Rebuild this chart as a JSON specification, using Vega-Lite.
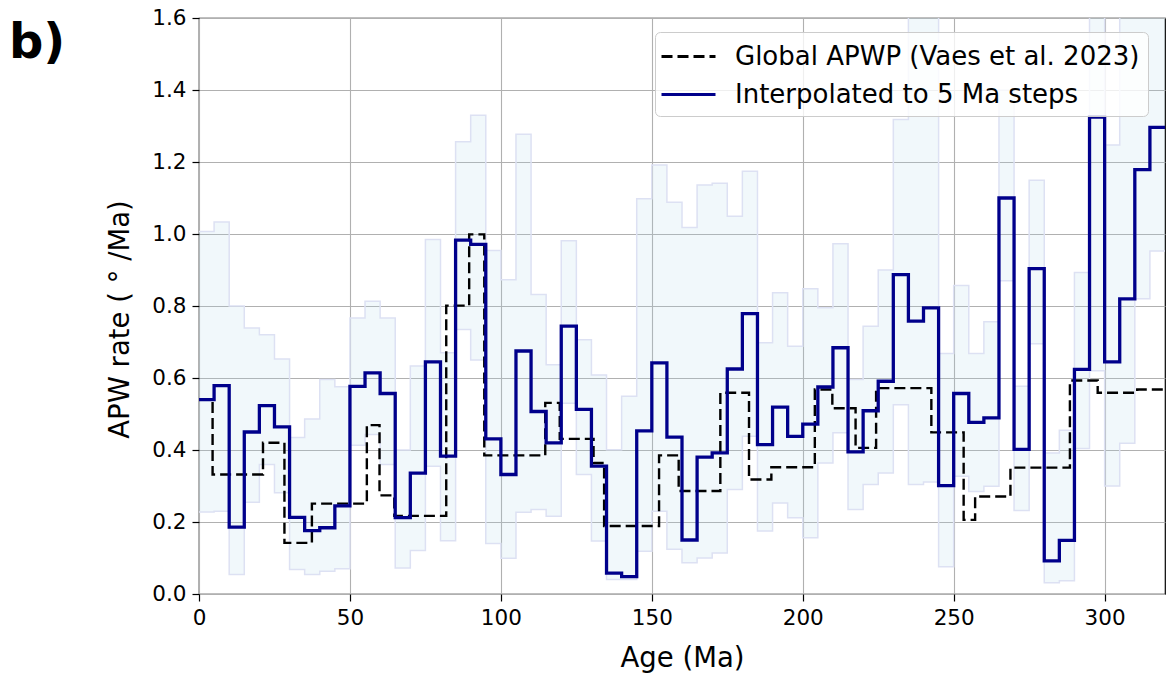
{
  "$schema": "https://vega.github.io/schema/vega-lite/v6.json",
  "width": 966,
  "height": 576,
  "autosize": {"type": "none"},
  "padding": {"left": 199, "top": 18, "right": 6, "bottom": 85},
  "background": "white",
  "title": {"text": "b)", "anchor": "start", "frame": "group", "orient": "top", "fontSize": 48, "fontWeight": "bold", "font": "DejaVu Sans", "color": "black", "baseline": "alphabetic", "offset": 0, "dx": -190, "dy": 99},
  "datasets": {
    "band": [
      {"age": 0, "lo": 0.228, "hi": 1.007},
      {"age": 5, "lo": 0.230, "hi": 1.033},
      {"age": 10, "lo": 0.054, "hi": 0.800},
      {"age": 15, "lo": 0.255, "hi": 0.739},
      {"age": 20, "lo": 0.360, "hi": 0.720},
      {"age": 25, "lo": 0.281, "hi": 0.653},
      {"age": 30, "lo": 0.068, "hi": 0.435},
      {"age": 35, "lo": 0.054, "hi": 0.486},
      {"age": 40, "lo": 0.063, "hi": 0.596},
      {"age": 45, "lo": 0.070, "hi": 0.576},
      {"age": 50, "lo": 0.413, "hi": 0.767},
      {"age": 55, "lo": 0.443, "hi": 0.813},
      {"age": 60, "lo": 0.360, "hi": 0.767},
      {"age": 65, "lo": 0.072, "hi": 0.400},
      {"age": 70, "lo": 0.121, "hi": 0.633},
      {"age": 75, "lo": 0.355, "hi": 0.985},
      {"age": 80, "lo": 0.148, "hi": 0.670},
      {"age": 85, "lo": 0.735, "hi": 1.256},
      {"age": 90, "lo": 0.650, "hi": 1.330},
      {"age": 95, "lo": 0.140, "hi": 0.954},
      {"age": 100, "lo": 0.099, "hi": 0.873},
      {"age": 105, "lo": 0.227, "hi": 1.277},
      {"age": 110, "lo": 0.235, "hi": 0.832},
      {"age": 115, "lo": 0.216, "hi": 0.637},
      {"age": 120, "lo": 0.530, "hi": 0.981},
      {"age": 125, "lo": 0.332, "hi": 0.706},
      {"age": 130, "lo": 0.147, "hi": 0.608},
      {"age": 135, "lo": 0.040, "hi": 0.401},
      {"age": 140, "lo": 0.040, "hi": 0.549},
      {"age": 145, "lo": 0.119, "hi": 1.098},
      {"age": 150, "lo": 0.230, "hi": 1.192},
      {"age": 155, "lo": 0.124, "hi": 1.088},
      {"age": 160, "lo": 0.087, "hi": 1.018},
      {"age": 165, "lo": 0.100, "hi": 1.136},
      {"age": 170, "lo": 0.114, "hi": 1.141},
      {"age": 175, "lo": 0.290, "hi": 1.049},
      {"age": 180, "lo": 0.438, "hi": 1.174},
      {"age": 185, "lo": 0.175, "hi": 0.698},
      {"age": 190, "lo": 0.253, "hi": 0.837},
      {"age": 195, "lo": 0.212, "hi": 0.688},
      {"age": 200, "lo": 0.156, "hi": 0.848},
      {"age": 205, "lo": 0.364, "hi": 0.795},
      {"age": 210, "lo": 0.448, "hi": 0.973},
      {"age": 215, "lo": 0.235, "hi": 0.596},
      {"age": 220, "lo": 0.304, "hi": 0.744},
      {"age": 225, "lo": 0.336, "hi": 0.900},
      {"age": 230, "lo": 0.526, "hi": 1.318},
      {"age": 235, "lo": 0.304, "hi": 1.700},
      {"age": 240, "lo": 0.311, "hi": 1.700},
      {"age": 245, "lo": 0.076, "hi": 0.668},
      {"age": 250, "lo": 0.327, "hi": 0.857},
      {"age": 255, "lo": 0.285, "hi": 0.668},
      {"age": 260, "lo": 0.299, "hi": 0.756},
      {"age": 265, "lo": 0.870, "hi": 1.400},
      {"age": 270, "lo": 0.232, "hi": 0.577},
      {"age": 275, "lo": 0.695, "hi": 1.149},
      {"age": 280, "lo": 0.031, "hi": 0.392},
      {"age": 285, "lo": 0.037, "hi": 0.455},
      {"age": 290, "lo": 0.404, "hi": 0.893},
      {"age": 295, "lo": 0.620, "hi": 1.700},
      {"age": 300, "lo": 0.300, "hi": 1.247},
      {"age": 305, "lo": 0.419, "hi": 1.700},
      {"age": 310, "lo": 0.820, "hi": 1.700},
      {"age": 315, "lo": 0.953, "hi": 1.700},
      {"age": 320, "lo": 0.953, "hi": 1.700}
    ],
    "global": [
      {"series": "Global APWP (Vaes et al. 2023)", "age": 0, "rate": 0.540},
      {"series": "Global APWP (Vaes et al. 2023)", "age": 4.5, "rate": 0.332},
      {"series": "Global APWP (Vaes et al. 2023)", "age": 21.2, "rate": 0.420},
      {"series": "Global APWP (Vaes et al. 2023)", "age": 28.3, "rate": 0.142},
      {"series": "Global APWP (Vaes et al. 2023)", "age": 37.4, "rate": 0.251},
      {"series": "Global APWP (Vaes et al. 2023)", "age": 55.6, "rate": 0.469},
      {"series": "Global APWP (Vaes et al. 2023)", "age": 59.8, "rate": 0.274},
      {"series": "Global APWP (Vaes et al. 2023)", "age": 64.7, "rate": 0.217},
      {"series": "Global APWP (Vaes et al. 2023)", "age": 81.9, "rate": 0.801},
      {"series": "Global APWP (Vaes et al. 2023)", "age": 89.5, "rate": 0.999},
      {"series": "Global APWP (Vaes et al. 2023)", "age": 94.5, "rate": 0.385},
      {"series": "Global APWP (Vaes et al. 2023)", "age": 114.7, "rate": 0.531},
      {"series": "Global APWP (Vaes et al. 2023)", "age": 119.5, "rate": 0.431},
      {"series": "Global APWP (Vaes et al. 2023)", "age": 130.7, "rate": 0.364},
      {"series": "Global APWP (Vaes et al. 2023)", "age": 134.2, "rate": 0.189},
      {"series": "Global APWP (Vaes et al. 2023)", "age": 152.4, "rate": 0.385},
      {"series": "Global APWP (Vaes et al. 2023)", "age": 158.9, "rate": 0.286},
      {"series": "Global APWP (Vaes et al. 2023)", "age": 172.7, "rate": 0.559},
      {"series": "Global APWP (Vaes et al. 2023)", "age": 182.2, "rate": 0.318},
      {"series": "Global APWP (Vaes et al. 2023)", "age": 189.6, "rate": 0.352},
      {"series": "Global APWP (Vaes et al. 2023)", "age": 204.0, "rate": 0.568},
      {"series": "Global APWP (Vaes et al. 2023)", "age": 209.8, "rate": 0.516},
      {"series": "Global APWP (Vaes et al. 2023)", "age": 217.5, "rate": 0.406},
      {"series": "Global APWP (Vaes et al. 2023)", "age": 224.3, "rate": 0.572},
      {"series": "Global APWP (Vaes et al. 2023)", "age": 242.6, "rate": 0.449},
      {"series": "Global APWP (Vaes et al. 2023)", "age": 253.3, "rate": 0.206},
      {"series": "Global APWP (Vaes et al. 2023)", "age": 257.1, "rate": 0.271},
      {"series": "Global APWP (Vaes et al. 2023)", "age": 268.8, "rate": 0.351},
      {"series": "Global APWP (Vaes et al. 2023)", "age": 288.5, "rate": 0.593},
      {"series": "Global APWP (Vaes et al. 2023)", "age": 297.7, "rate": 0.559},
      {"series": "Global APWP (Vaes et al. 2023)", "age": 310.8, "rate": 0.568},
      {"series": "Global APWP (Vaes et al. 2023)", "age": 320, "rate": 0.568}
    ],
    "interp": [
      {"series": "Interpolated to 5 Ma steps", "age": 0, "rate": 0.540},
      {"series": "Interpolated to 5 Ma steps", "age": 5, "rate": 0.579},
      {"series": "Interpolated to 5 Ma steps", "age": 10, "rate": 0.186},
      {"series": "Interpolated to 5 Ma steps", "age": 15, "rate": 0.450},
      {"series": "Interpolated to 5 Ma steps", "age": 20, "rate": 0.523},
      {"series": "Interpolated to 5 Ma steps", "age": 25, "rate": 0.464},
      {"series": "Interpolated to 5 Ma steps", "age": 30, "rate": 0.213},
      {"series": "Interpolated to 5 Ma steps", "age": 35, "rate": 0.176},
      {"series": "Interpolated to 5 Ma steps", "age": 40, "rate": 0.184},
      {"series": "Interpolated to 5 Ma steps", "age": 45, "rate": 0.245},
      {"series": "Interpolated to 5 Ma steps", "age": 50, "rate": 0.577},
      {"series": "Interpolated to 5 Ma steps", "age": 55, "rate": 0.614},
      {"series": "Interpolated to 5 Ma steps", "age": 60, "rate": 0.557},
      {"series": "Interpolated to 5 Ma steps", "age": 65, "rate": 0.212},
      {"series": "Interpolated to 5 Ma steps", "age": 70, "rate": 0.336},
      {"series": "Interpolated to 5 Ma steps", "age": 75, "rate": 0.645},
      {"series": "Interpolated to 5 Ma steps", "age": 80, "rate": 0.383},
      {"series": "Interpolated to 5 Ma steps", "age": 85, "rate": 0.983},
      {"series": "Interpolated to 5 Ma steps", "age": 90, "rate": 0.971},
      {"series": "Interpolated to 5 Ma steps", "age": 95, "rate": 0.431},
      {"series": "Interpolated to 5 Ma steps", "age": 100, "rate": 0.332},
      {"series": "Interpolated to 5 Ma steps", "age": 105, "rate": 0.675},
      {"series": "Interpolated to 5 Ma steps", "age": 110, "rate": 0.507},
      {"series": "Interpolated to 5 Ma steps", "age": 115, "rate": 0.420},
      {"series": "Interpolated to 5 Ma steps", "age": 120, "rate": 0.744},
      {"series": "Interpolated to 5 Ma steps", "age": 125, "rate": 0.513},
      {"series": "Interpolated to 5 Ma steps", "age": 130, "rate": 0.355},
      {"series": "Interpolated to 5 Ma steps", "age": 135, "rate": 0.058},
      {"series": "Interpolated to 5 Ma steps", "age": 140, "rate": 0.048},
      {"series": "Interpolated to 5 Ma steps", "age": 145, "rate": 0.453},
      {"series": "Interpolated to 5 Ma steps", "age": 150, "rate": 0.642},
      {"series": "Interpolated to 5 Ma steps", "age": 155, "rate": 0.436},
      {"series": "Interpolated to 5 Ma steps", "age": 160, "rate": 0.150},
      {"series": "Interpolated to 5 Ma steps", "age": 165, "rate": 0.380},
      {"series": "Interpolated to 5 Ma steps", "age": 170, "rate": 0.392},
      {"series": "Interpolated to 5 Ma steps", "age": 175, "rate": 0.625},
      {"series": "Interpolated to 5 Ma steps", "age": 180, "rate": 0.779},
      {"series": "Interpolated to 5 Ma steps", "age": 185, "rate": 0.415},
      {"series": "Interpolated to 5 Ma steps", "age": 190, "rate": 0.519},
      {"series": "Interpolated to 5 Ma steps", "age": 195, "rate": 0.438},
      {"series": "Interpolated to 5 Ma steps", "age": 200, "rate": 0.472},
      {"series": "Interpolated to 5 Ma steps", "age": 205, "rate": 0.575},
      {"series": "Interpolated to 5 Ma steps", "age": 210, "rate": 0.684},
      {"series": "Interpolated to 5 Ma steps", "age": 215, "rate": 0.395},
      {"series": "Interpolated to 5 Ma steps", "age": 220, "rate": 0.509},
      {"series": "Interpolated to 5 Ma steps", "age": 225, "rate": 0.591},
      {"series": "Interpolated to 5 Ma steps", "age": 230, "rate": 0.887},
      {"series": "Interpolated to 5 Ma steps", "age": 235, "rate": 0.758},
      {"series": "Interpolated to 5 Ma steps", "age": 240, "rate": 0.795},
      {"series": "Interpolated to 5 Ma steps", "age": 245, "rate": 0.301},
      {"series": "Interpolated to 5 Ma steps", "age": 250, "rate": 0.557},
      {"series": "Interpolated to 5 Ma steps", "age": 255, "rate": 0.477},
      {"series": "Interpolated to 5 Ma steps", "age": 260, "rate": 0.489},
      {"series": "Interpolated to 5 Ma steps", "age": 265, "rate": 1.100},
      {"series": "Interpolated to 5 Ma steps", "age": 270, "rate": 0.402},
      {"series": "Interpolated to 5 Ma steps", "age": 275, "rate": 0.904},
      {"series": "Interpolated to 5 Ma steps", "age": 280, "rate": 0.092},
      {"series": "Interpolated to 5 Ma steps", "age": 285, "rate": 0.149},
      {"series": "Interpolated to 5 Ma steps", "age": 290, "rate": 0.624},
      {"series": "Interpolated to 5 Ma steps", "age": 295, "rate": 1.325},
      {"series": "Interpolated to 5 Ma steps", "age": 300, "rate": 0.645},
      {"series": "Interpolated to 5 Ma steps", "age": 305, "rate": 0.820},
      {"series": "Interpolated to 5 Ma steps", "age": 310, "rate": 1.179},
      {"series": "Interpolated to 5 Ma steps", "age": 315, "rate": 1.296},
      {"series": "Interpolated to 5 Ma steps", "age": 320, "rate": 1.296}
    ]
  },
  "layer": [
    {
      "data": {"name": "band"},
      "mark": {"type": "area", "interpolate": "step-after", "clip": true, "fill": "#add8e6", "fillOpacity": 0.17},
      "encoding": {
        "x": {"field": "age", "type": "quantitative", "title": "Age (Ma)",
              "scale": {"domain": [0, 320], "nice": false, "zero": false},
              "axis": {"values": [0, 50, 100, 150, 200, 250, 300], "labelFlush": false, "titlePadding": 16}},
        "y": {"field": "hi", "type": "quantitative", "title": "APW rate ( ° /Ma)",
              "scale": {"domain": [0, 1.6], "nice": false},
              "axis": {"values": [0, 0.2, 0.4, 0.6, 0.8, 1.0, 1.2, 1.4, 1.6], "format": ".1f", "labelFlush": false, "titlePadding": 17, "titleY": 301}},
        "y2": {"field": "lo"}
      }
    },
    {
      "data": {"name": "band"},
      "mark": {"type": "line", "interpolate": "step-after", "clip": true, "stroke": "#dde1f3", "strokeWidth": 1.5},
      "encoding": {
        "x": {"field": "age", "type": "quantitative", "title": "Age (Ma)"},
        "y": {"field": "hi", "type": "quantitative", "title": "APW rate ( ° /Ma)"}
      }
    },
    {
      "data": {"name": "band"},
      "mark": {"type": "line", "interpolate": "step-after", "clip": true, "stroke": "#dde1f3", "strokeWidth": 1.5},
      "encoding": {
        "x": {"field": "age", "type": "quantitative", "title": "Age (Ma)"},
        "y": {"field": "lo", "type": "quantitative", "title": "APW rate ( ° /Ma)"}
      }
    },
    {
      "data": {"name": "global"},
      "mark": {"type": "line", "interpolate": "step-after", "clip": true, "strokeWidth": 2.4},
      "encoding": {
        "x": {"field": "age", "type": "quantitative", "title": "Age (Ma)"},
        "y": {"field": "rate", "type": "quantitative", "title": "APW rate ( ° /Ma)"},
        "color": {"field": "series", "type": "nominal",
                  "scale": {"domain": ["Global APWP (Vaes et al. 2023)", "Interpolated to 5 Ma steps"], "range": ["#000000", "#00008b"]},
                  "legend": {"title": null, "orient": "none", "legendX": 456, "legendY": 14}},
        "strokeDash": {"field": "series", "type": "nominal",
                  "scale": {"domain": ["Global APWP (Vaes et al. 2023)", "Interpolated to 5 Ma steps"], "range": [[11, 5], [1, 0]]},
                  "legend": {"title": null, "orient": "none", "legendX": 456, "legendY": 14}}
      }
    },
    {
      "data": {"name": "interp"},
      "mark": {"type": "line", "interpolate": "step-after", "clip": true, "strokeWidth": 3.3},
      "encoding": {
        "x": {"field": "age", "type": "quantitative", "title": "Age (Ma)"},
        "y": {"field": "rate", "type": "quantitative", "title": "APW rate ( ° /Ma)"},
        "color": {"field": "series", "type": "nominal",
                  "scale": {"domain": ["Global APWP (Vaes et al. 2023)", "Interpolated to 5 Ma steps"], "range": ["#000000", "#00008b"]},
                  "legend": {"title": null, "orient": "none", "legendX": 456, "legendY": 14}},
        "strokeDash": {"field": "series", "type": "nominal",
                  "scale": {"domain": ["Global APWP (Vaes et al. 2023)", "Interpolated to 5 Ma steps"], "range": [[11, 5], [1, 0]]},
                  "legend": {"title": null, "orient": "none", "legendX": 456, "legendY": 14}}
      }
    }
  ],
  "config": {
    "font": "DejaVu Sans",
    "view": {"stroke": "black", "strokeWidth": 1.2},
    "axis": {
      "labelFont": "DejaVu Sans", "labelFontSize": 21.5, "labelColor": "black",
      "titleFont": "DejaVu Sans", "titleFontSize": 27.5, "titleFontWeight": "normal", "titleColor": "black",
      "tickColor": "black", "tickSize": 7, "tickWidth": 1.2, "labelPadding": 6,
      "domain": false, "grid": true, "gridColor": "#b0b0b0", "gridWidth": 1.1, "labelOverlap": false
    },
    "legend": {
      "labelFont": "DejaVu Sans", "labelFontSize": 26, "labelColor": "black", "labelLimit": 700,
      "fillColor": "rgba(255,255,255,0.8)", "strokeColor": "#cccccc", "cornerRadius": 5, "padding": 8,
      "symbolType": "M-1.8,0H1.8", "symbolSize": 900, "symbolStrokeWidth": 2.8,
      "rowPadding": 8, "labelOffset": 30, "symbolOffset": 9
    }
  }
}
